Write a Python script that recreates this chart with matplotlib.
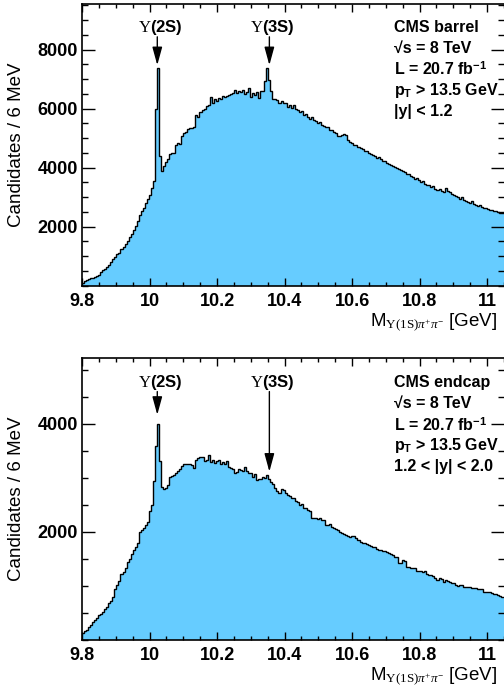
import numpy as np
import matplotlib
matplotlib.use("Agg")
import matplotlib.pyplot as plt
from matplotlib.ticker import MultipleLocator

plt.rcParams['font.family'] = ['Liberation Sans', 'DejaVu Sans']
plt.rcParams['mathtext.fontset'] = 'custom'
plt.rcParams['mathtext.rm'] = 'Liberation Serif'
plt.rcParams['mathtext.it'] = 'Liberation Serif:italic'
plt.rcParams['mathtext.bf'] = 'Liberation Sans:bold'
plt.rcParams['mathtext.sf'] = 'Liberation Sans'

# histogram: 6 MeV bins starting at 9.8 GeV
bin_start = 9.8
bin_width = 0.006

barrel_counts = [
    110, 150, 190, 230, 250, 280, 300, 330, 380, 460,
    540, 570, 620, 700, 790, 920, 990, 1060, 1110, 1240,
    1330, 1400, 1520, 1640, 1760, 1900, 2010, 2180, 2400, 2530,
    2650, 2800, 2950, 3060, 3300, 3560, 5990, 7380, 4380, 3900,
    4050, 4200, 4300, 4450, 4480, 4500, 4780, 4830, 4800, 5060,
    5160, 5200, 5320, 5330, 5340, 5360, 5780, 5720, 5900, 5960,
    5980, 6100, 6130, 6380, 6200, 6330, 6250, 6360, 6330, 6420,
    6400, 6430, 6460, 6500, 6530, 6640, 6520, 6600, 6550, 6640,
    6480, 6560, 6700, 6400, 6520, 6470, 6560, 6370, 6600, 6600,
    6930, 7380, 6980, 6590, 6340, 6320, 6300, 6200, 6270, 6190,
    6200, 6050, 6120, 6030, 6120, 5980, 5950, 5870, 5910, 5780,
    5820, 5700, 5650, 5720, 5600, 5580, 5520, 5560, 5450, 5420,
    5380, 5360, 5260, 5290, 5200, 5160, 5070, 5060, 5090, 5150,
    5100, 4950, 4880, 4850, 4780, 4760, 4700, 4650, 4620, 4560,
    4580, 4500, 4470, 4430, 4400, 4330, 4360, 4280, 4220, 4240,
    4170, 4110, 4090, 4040, 4030, 3990, 3960, 3930, 3880, 3850,
    3780, 3800, 3720, 3690, 3630, 3640, 3580, 3510, 3540, 3460,
    3420, 3400, 3350, 3380, 3290, 3240, 3280, 3220, 3160, 3310,
    3200, 3160, 3100, 3080, 3040, 3000, 2950, 2990, 2900, 2880,
    2840, 2810, 2870, 2760, 2740, 2700, 2720, 2660, 2640, 2620,
    2590, 2570, 2560, 2540, 2520, 2510, 2480, 2470, 2460,
]

endcap_counts = [
    125, 160, 190, 240, 280, 340, 370, 410, 470, 490,
    525, 570, 620, 690, 730, 800, 950, 1010, 1090, 1220,
    1250, 1330, 1440, 1500, 1600, 1660, 1730, 1800, 2000, 2040,
    2070, 2130, 2180, 2380, 2500, 2940, 3600, 4000, 3320, 2840,
    2800, 2810, 2870, 3010, 3030, 3060, 3100, 3130, 3170, 3230,
    3250, 3260, 3250, 3260, 3240, 3190, 3330, 3370, 3395, 3380,
    3320, 3330, 3425, 3290, 3330, 3270, 3320, 3330, 3260, 3290,
    3250, 3320, 3210, 3190, 3170, 3100, 3110, 3160, 3150, 3120,
    3210, 3130, 3085, 3100, 3010, 3070, 2970, 2990, 2980, 3010,
    3000, 3050, 2990, 2930, 2880, 2810, 2760, 2730, 2790, 2780,
    2730, 2690, 2670, 2630, 2620, 2580, 2560, 2500, 2510, 2450,
    2440, 2400, 2380, 2260, 2250, 2260, 2240, 2250, 2230, 2220,
    2130, 2120, 2140, 2090, 2070, 2060, 2030, 2000, 1980, 1960,
    1950, 1920, 1900, 1930, 1920, 1880, 1850, 1820, 1790, 1800,
    1770, 1760, 1740, 1730, 1720, 1690, 1670, 1660, 1650, 1640,
    1630, 1610, 1600, 1580, 1540, 1530, 1420, 1430, 1480, 1470,
    1360, 1350, 1340, 1330, 1330, 1270, 1270, 1280, 1260, 1270,
    1230, 1210, 1200, 1180, 1150, 1110, 1140, 1130, 1080, 1110,
    1100, 1080, 1060, 1050, 1020, 1000, 1010, 1020, 990, 985,
    975, 980, 970, 960, 955, 950, 945, 940, 890, 880,
    885, 890, 870, 850, 845, 830, 815, 800, 795,
]

barrel_info = ["CMS barrel", "\u221As = 8 TeV", "L = 20.7 fb$^{\\mathbf{-1}}$",
               "p$_{\\mathbf{T}}$ > 13.5 GeV", "|y| < 1.2"]
endcap_info = ["CMS endcap", "\u221As = 8 TeV", "L = 20.7 fb$^{\\mathbf{-1}}$",
               "p$_{\\mathbf{T}}$ > 13.5 GeV", "1.2 < |y| < 2.0"]

peak_names = ["$\\Upsilon$(2S)", "$\\Upsilon$(3S)"]
peak_masses = [10.023, 10.355]

fill_color = "#66ccff"
xlabel = "M$_{\\Upsilon\\mathrm{(1S)}\\pi^{+}\\pi^{-}}$ [GeV]"

fig = plt.figure(figsize=(5.04, 6.93), dpi=100)
ax_top = fig.add_axes([0.1627, 0.5876, 0.8373, 0.4066])
ax_bot = fig.add_axes([0.1627, 0.0765, 0.8373, 0.4074])

panels = [
    # axes, counts, ymax, info, first info line (axes frac), label y, arrow start, arrow tips, line step
    (ax_top, barrel_counts, 9540, barrel_info, 0.918, 8755, 8430, [7470, 7470], 0.0745),
    (ax_bot, endcap_counts, 5228, endcap_info, 0.912, 4770, 4600, [4170, 3117], 0.0745),
]

for ax, counts, ymax, info, info_y0, lab_y, arr_y0, tips, dy in panels:
    counts = np.array(counts, dtype=float)
    edges = bin_start + bin_width * np.arange(len(counts) + 1)
    ax.stairs(counts, edges, fill=True, color=fill_color, lw=0)
    ax.stairs(counts, edges, baseline=None, color="black", lw=1.0)

    ax.set_xlim(9.8, 11.05)
    ax.set_ylim(0, ymax)

    ax.xaxis.set_minor_locator(MultipleLocator(0.05))
    ax.yaxis.set_minor_locator(MultipleLocator(500))
    ax.set_xticks([9.8, 10.0, 10.2, 10.4, 10.6, 10.8, 11.0])
    ax.set_xticklabels(["9.8", "10", "10.2", "10.4", "10.6", "10.8", "11"])
    yt = [t for t in range(2000, int(ymax), 2000)]
    ax.set_yticks(yt)
    ax.set_yticklabels([str(t) for t in yt])

    ax.tick_params(which="both", direction="in", top=True, right=True,
                   labelsize=13, width=1.0)
    ax.tick_params(axis="x", which="major", length=6, pad=5)
    ax.tick_params(axis="x", which="minor", length=3)
    ax.tick_params(axis="y", which="major", length=9.5, pad=3)
    ax.tick_params(axis="y", which="minor", length=4.5)
    for lab in ax.get_xticklabels() + ax.get_yticklabels():
        lab.set_fontweight("bold")
    for side in ["left", "bottom", "top"]:
        ax.spines[side].set_linewidth(1.2)
    ax.spines["right"].set_visible(False)

    ax.set_ylabel("Candidates / 6 MeV", fontsize=13.5)
    ax.yaxis.set_label_coords(-0.135, 0.5)
    ax.text(0.983, -0.128, xlabel, transform=ax.transAxes, ha="right",
            va="center", fontsize=13.5)

    for k, line in enumerate(info):
        ax.text(0.739, info_y0 - k * dy, line, transform=ax.transAxes,
                ha="left", va="center", fontsize=11.5, fontweight="bold")

    for name, m, tip in zip(peak_names, peak_masses, tips):
        ax.annotate("", xy=(m, tip), xytext=(m, arr_y0),
                    arrowprops=dict(arrowstyle="-|>,head_length=1.1,head_width=0.3",
                                    color="black", lw=1.0, mutation_scale=10,
                                    shrinkA=0, shrinkB=0))
        ax.text(m + 0.01, lab_y, name, ha="center", va="center",
                fontsize=12, fontweight="bold")

fig.savefig("out.png", dpi=100)
